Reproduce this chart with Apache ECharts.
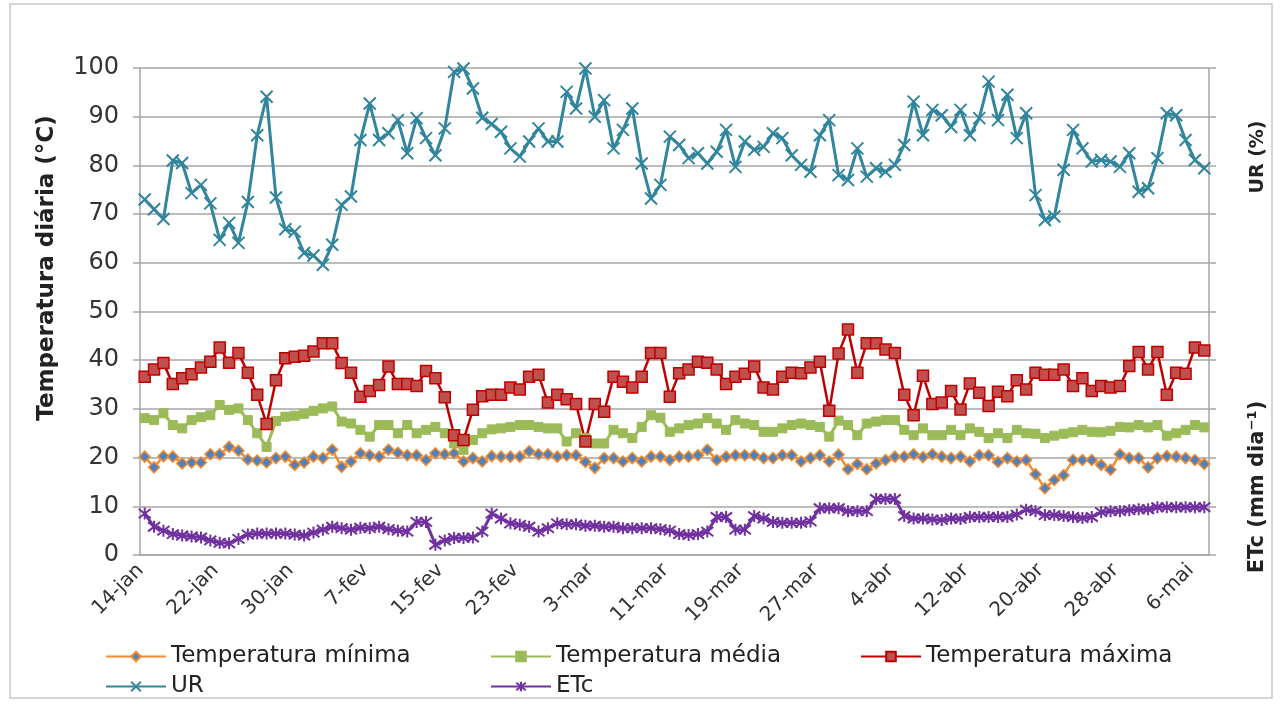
<!DOCTYPE html>
<html>
<head>
<meta charset="utf-8">
<script src="https://cdn.jsdelivr.net/npm/echarts@6/dist/echarts.min.js"></script>
<style>
  html, body { margin: 0; padding: 0; background: #fff; }
  #chart { width: 1281px; height: 704px; }
</style>
</head>
<body>
<div id="chart"></div>
<script>
// daily series, 14-jan .. 7-mai (114 days)
var monthNames = ['jan', 'fev', 'mar', 'abr', 'mai'];
var monthDays = [31, 28, 31, 30, 31];
var firstDay = 14;
var nDays = 114;

var tMin = [20.2, 18, 20.3, 20.2, 18.8, 19, 19, 20.7, 20.7, 22.2, 21.4, 19.6, 19.4, 19, 19.9, 20.2, 18.5, 19, 20.2,
  19.9, 21.6, 18.1, 19.2, 20.9, 20.5, 20.2, 21.6, 21, 20.5, 20.5, 19.5, 20.9, 20.7, 20.9, 19.2, 19.9, 19.2, 20.3,
  20.2, 20.2, 20.2, 21.3, 20.7, 20.7, 20.2, 20.5, 20.5, 19.1, 17.9, 19.9, 19.9, 19.2, 19.9, 19.2, 20.2, 20.2,
  19.5, 20.2, 20.2, 20.5, 21.6, 19.5, 20.2, 20.5, 20.5, 20.5, 19.9, 19.9, 20.5, 20.5, 19.2, 19.9, 20.5, 19.2, 20.6,
  17.6, 18.7, 17.6, 18.8, 19.5, 20.2, 20.2, 20.7, 20.1, 20.7, 20.2, 19.9, 20.2, 19.2, 20.5, 20.5, 19.1, 19.9, 19.2,
  19.5, 16.6, 13.7, 15.4, 16.4, 19.5, 19.5, 19.5, 18.5, 17.5, 20.7, 19.9, 19.9, 18, 19.9, 20.3, 20.2, 19.9, 19.5, 18.7];

var tMed = [28.1, 27.7, 29.1, 26.7, 26, 27.7, 28.3, 28.7, 30.8, 29.8, 30.1, 27.7, 25, 22.2, 27.5, 28.4, 28.6, 29, 29.6,
  30.1, 30.5, 27.4, 27, 25.7, 24.3, 26.7, 26.7, 25, 26.7, 25, 25.7, 26.3, 25, 22.9, 21.6, 23.6, 25, 25.8,
  26, 26.3, 26.7, 26.7, 26.3, 26, 26, 23.3, 25, 24, 22.9, 22.9, 25.7, 25, 24, 26.3, 28.7, 28.2,
  25.3, 26, 26.7, 27, 28.1, 27, 25.7, 27.7, 27, 26.7, 25.3, 25.3, 26, 26.7, 27, 26.7, 26.3, 24.3, 27.6,
  26.7, 24.6, 27, 27.4, 27.7, 27.7, 25.7, 24.6, 26, 24.6, 24.6, 25.7, 24.6, 26, 25.3, 24, 25, 24, 25.7,
  25, 24.9, 24, 24.5, 24.9, 25.2, 25.7, 25.3, 25.2, 25.5, 26.3, 26.2, 26.7, 26.2, 26.7, 24.5, 25, 25.7, 26.7, 26.2];

var tMax = [36.6, 38.1, 39.4, 35.1, 36.3, 37.1, 38.5, 39.7, 42.6, 39.5, 41.5, 37.4, 32.9, 26.9, 35.9, 40.4, 40.7, 40.9, 41.8,
  43.5, 43.5, 39.4, 37.4, 32.5, 33.7, 34.9, 38.7, 35.1, 35.1, 34.7, 37.8, 36.3, 32.4, 24.6, 23.6, 29.8, 32.6, 32.9,
  32.9, 34.4, 34, 36.6, 37, 31.3, 32.9, 32, 31, 23.3, 31, 29.4, 36.6, 35.6, 34.4, 36.6, 41.5, 41.5,
  32.5, 37.3, 38.1, 39.7, 39.5, 38.1, 35.1, 36.6, 37.2, 38.7, 34.4, 34, 36.6, 37.4, 37.3, 38.5, 39.7, 29.6, 41.4,
  46.3, 37.4, 43.5, 43.5, 42.2, 41.5, 32.9, 28.7, 36.8, 31, 31.3, 33.7, 29.9, 35.2, 33.3, 30.6, 33.5, 32.6, 35.9,
  34, 37.4, 37, 37, 38.1, 34.7, 36.3, 33.7, 34.7, 34.4, 34.7, 38.8, 41.7, 38.1, 41.7, 32.9, 37.4, 37.2, 42.6, 42];

var ur = [73, 71, 69, 81, 80.5, 74.3, 76, 72.2, 64.7, 68.2, 64.1, 72.5, 86.2, 94.1, 73.4, 66.9, 66.4, 62, 61.5,
  59.6, 63.7, 71.9, 73.6, 85.2, 92.7, 85.2, 86.6, 89.3, 82.5, 89.7, 85.6, 82.1, 87.6, 99.2, 99.9, 95.8, 89.8, 88.5,
  86.9, 83.5, 81.8, 84.9, 87.6, 84.9, 84.9, 95.1, 91.7, 99.9, 90, 93.4, 83.5, 87.3, 91.7, 80.4, 73.2, 76,
  85.9, 84.2, 81.5, 82.5, 80.4, 82.8, 87.3, 79.7, 84.9, 83.2, 83.8, 86.6, 85.6, 82.1, 80.1, 78.7, 86.2, 89.3, 78,
  77, 83.5, 77.7, 79.4, 78.7, 80.1, 84.2, 93.1, 86.2, 91.4, 90.3, 87.9, 91.4, 86.2, 89.7, 97.2, 89.3, 94.5, 85.6,
  90.7, 73.9, 68.8, 69.5, 79.1, 87.3, 83.5, 80.8, 81.1, 80.8, 79.7, 82.5, 74.6, 75.3, 81.5, 90.7, 90.3, 85.2, 81.1, 79.4];

var etc = [8.5, 5.8, 5, 4.3, 4, 3.8, 3.6, 3, 2.5, 2.4, 3.3, 4.2, 4.4, 4.4, 4.4, 4.4, 4.2, 4, 4.6,
  5.2, 5.8, 5.5, 5.2, 5.6, 5.5, 5.8, 5.3, 5, 4.8, 6.8, 6.8, 2.1, 3, 3.5, 3.5, 3.6, 4.8, 8.5,
  7.5, 6.5, 6.2, 5.8, 4.8, 5.5, 6.5, 6.3, 6.3, 6, 6, 5.8, 5.8, 5.5, 5.5, 5.5, 5.5, 5.3,
  5, 4.3, 4.1, 4.3, 4.8, 7.8, 7.8, 5.2, 5.2, 8, 7.5, 6.8, 6.6, 6.6, 6.6, 6.9, 9.6, 9.6, 9.6,
  9, 9, 9, 11.5, 11.5, 11.5, 8, 7.5, 7.5, 7.3, 7.2, 7.5, 7.4, 7.8, 7.8, 7.8, 7.8, 7.8, 8.3,
  9.3, 9, 8.2, 8.2, 8, 7.8, 7.6, 7.8, 8.8, 9, 9, 9.2, 9.4, 9.4, 9.8, 9.8, 9.8, 9.8, 9.8, 9.8];

var yTicks = { min: 0, max: 100, interval: 10 };

// date labels like "14-jan"
var days = [];
(function() {
  var m = 0, d = firstDay;
  for (var i = 0; i < nDays; i++) {
    days.push(d + '-' + monthNames[m]);
    d++;
    if (d > monthDays[m]) { d = 1; m++; }
  }
})();

var font = 'DejaVu Sans';
var gridColor = '#a6a6a6';

function series(name, data, opt) {
  return {
    name: name,
    type: 'line',
    data: data,
    symbol: opt.symbol,
    symbolSize: opt.size,
    showAllSymbol: true,
    lineStyle: { color: opt.line, width: opt.width },
    itemStyle: { color: opt.fill, borderColor: opt.border, borderWidth: opt.bw },
    emphasis: { disabled: true },
    animation: false
  };
}

var xMark = 'path://M0,0L10,10M10,0L0,10';
var starMark = 'path://M0,0L10,10M10,0L0,10M5,-1.5L5,11.5';

var chart = echarts.init(document.getElementById('chart'), null, { renderer: 'canvas' });
chart.setOption({
  animation: false,
  textStyle: { fontFamily: font },
  grid: { left: 140, right: 72, top: 68, bottom: 149 },
  xAxis: {
    type: 'category',
    data: days,
    boundaryGap: true,
    axisLine: { lineStyle: { color: gridColor, width: 1.5 } },
    axisTick: { interval: 7, length: 7, lineStyle: { color: gridColor, width: 1.5 } },
    axisLabel: { interval: 7, rotate: 45, margin: 8, color: '#333', fontSize: 20, fontFamily: font,
      padding: [0, 6, 0, 0] }
  },
  yAxis: [{
    type: 'value',
    min: yTicks.min, max: yTicks.max, interval: yTicks.interval,
    axisLine: { show: true, lineStyle: { color: gridColor, width: 1.5 } },
    axisTick: { show: true, length: 7, lineStyle: { color: gridColor, width: 1.5 } },
    axisLabel: { color: '#333', fontSize: 24, margin: 21, fontFamily: font },
    splitLine: { lineStyle: { color: gridColor, width: 1.5 } }
  }, {
    type: 'value',
    position: 'right',
    min: yTicks.min, max: yTicks.max, interval: yTicks.interval,
    axisLine: { show: true, lineStyle: { color: gridColor, width: 1.5 } },
    axisTick: { show: true, length: 7, lineStyle: { color: gridColor, width: 1.5 } },
    axisLabel: { show: false },
    splitLine: { show: false }
  }],
  legend: [
    { data: ['Temperatura mínima'], left: 105, top: 645 },
    { data: ['Temperatura média'], left: 490, top: 645 },
    { data: ['Temperatura máxima'], left: 860, top: 645 },
    { data: ['UR'], left: 105, top: 675 },
    { data: ['ETc'], left: 490, top: 675 }
  ].map(function(l) {
    l.itemWidth = 60; l.itemHeight = 12; l.padding = 0; l.itemGap = 0;
    l.textStyle = { fontSize: 23, color: '#222', fontFamily: font };
    return l;
  }),
  series: [
    series('Temperatura mínima', tMin, { symbol: 'diamond', size: 11, line: '#F38B2F', width: 2.5, fill: '#4F81BD', border: '#F38B2F', bw: 1.5 }),
    series('Temperatura média', tMed, { symbol: 'rect', size: 9, line: '#9BBB59', width: 3, fill: '#9BBB59', border: '#9BBB59', bw: 1 }),
    series('Temperatura máxima', tMax, { symbol: 'rect', size: 11, line: '#C00000', width: 2.5, fill: '#C0504D', border: '#C00000', bw: 1.5 }),
    series('UR', ur, { symbol: xMark, size: 12, line: '#31859C', width: 3, fill: '#31859C', border: '#31859C', bw: 2 }),
    series('ETc', etc, { symbol: starMark, size: 12, line: '#7030A0', width: 3, fill: '#7030A0', border: '#7030A0', bw: 2 })
  ],
  graphic: [
    { type: 'rect', shape: { x: 10, y: 4, width: 1262, height: 694 }, style: { fill: 'none', stroke: '#c8c8c8', lineWidth: 1.5 }, silent: true },
    { type: 'text', x: 47, y: 268, rotation: Math.PI / 2,
      style: { text: 'Temperatura diária (°C)', font: 'bold 23px "DejaVu Sans"', fill: '#222', align: 'center', verticalAlign: 'middle' } },
    { type: 'text', x: 1258, y: 157, rotation: Math.PI / 2,
      style: { text: 'UR (%)', font: 'bold 19px "DejaVu Sans"', fill: '#222', align: 'center', verticalAlign: 'middle' } },
    { type: 'text', x: 1258, y: 487, rotation: Math.PI / 2,
      style: { text: 'ETc (mm dia⁻¹)', font: 'bold 21px "DejaVu Sans"', fill: '#222', align: 'center', verticalAlign: 'middle' } }
  ]
});
</script>
</body>
</html>
